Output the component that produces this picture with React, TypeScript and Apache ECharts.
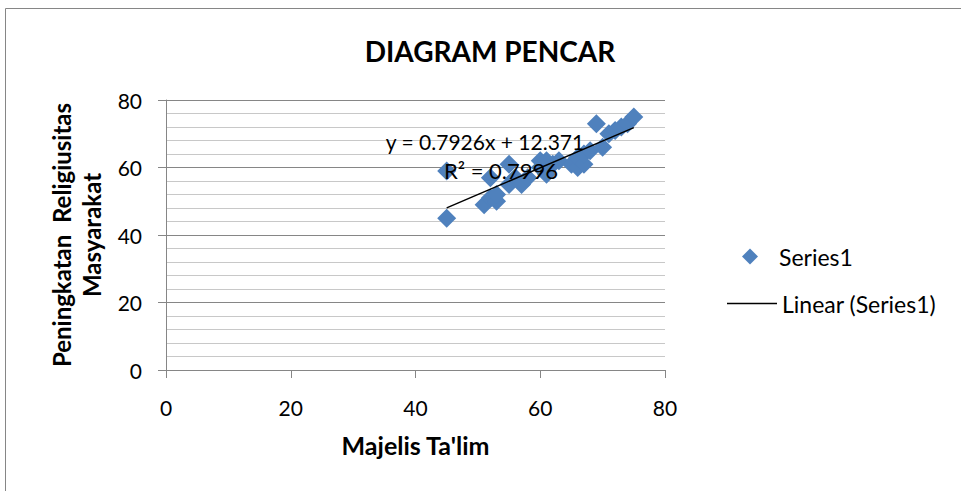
import React, { useEffect, useRef } from "react";
import * as echarts from "echarts";

const xValues = [45, 45, 51, 52, 52, 53, 53, 55, 55, 56, 57, 58, 60, 60, 61, 61, 62, 63, 65, 66, 66, 67, 67, 68, 69, 70, 71, 72, 73, 74, 75];
const yValues = [45, 59, 49, 51, 57, 50, 52, 61, 55, 57, 55, 57, 62, 60, 58, 62, 61, 62, 61, 60, 63, 61, 64, 65, 73, 66, 70, 71, 72, 73, 75];
const slope = 0.7926;
const intercept = 12.371;
const rSquared = 0.7996;
const titleText = "DIAGRAM PENCAR";
const xAxisName = "Majelis Ta'lim";
const yAxisName = "Peningkatan  Religiusitas\nMasyarakat";
const seriesName = "Series1";
const trendName = "Linear (Series1)";

const FONT = "Lato";

export default function App() {
  const ref = useRef<HTMLDivElement>(null);
  useEffect(() => {
    if (!ref.current) return;
    const chart = echarts.init(ref.current, undefined, { renderer: "svg" });
    const points = xValues.map((x, i) => [x, yValues[i]]);
    const minX = Math.min(...xValues);
    const maxX = Math.max(...xValues);
    const trend = [
      [minX, slope * minX + intercept],
      [maxX, slope * maxX + intercept],
    ];
    chart.setOption({
      animation: false,
      backgroundColor: "#ffffff",
      textStyle: { fontFamily: FONT },
      title: {
        text: titleText,
        left: 485,
        top: 32,
        textAlign: "center",
        textStyle: { fontFamily: FONT, fontWeight: "bold", fontSize: 28, color: "#000" },
      },
      grid: { left: 166, right: 296, top: 100, bottom: 121, containLabel: false },
      xAxis: {
        type: "value",
        min: 0,
        max: 80,
        interval: 20,
        name: xAxisName,
        nameLocation: "middle",
        nameGap: 62,
        nameTextStyle: { fontFamily: FONT, fontWeight: "bold", fontSize: 25, color: "#000" },
        axisLine: { show: true, lineStyle: { color: "#868686", width: 1 } },
        axisTick: { show: true, inside: false, length: 8, lineStyle: { color: "#868686" } },
        axisLabel: { fontFamily: FONT, fontSize: 21, color: "#000", margin: 27 },
        splitLine: { show: false },
      },
      yAxis: {
        type: "value",
        min: 0,
        max: 80,
        interval: 20,
        name: yAxisName,
        nameLocation: "middle",
        nameRotate: 90,
        nameGap: 59,
        nameTextStyle: { fontFamily: FONT, fontWeight: "bold", fontSize: 24, color: "#000", lineHeight: 30 },
        axisLine: { show: true, lineStyle: { color: "#868686", width: 1 } },
        axisTick: { show: true, inside: false, length: 8, lineStyle: { color: "#868686" } },
        axisLabel: { fontFamily: FONT, fontSize: 21, color: "#000", margin: 24 },
        splitLine: { show: true, lineStyle: { color: "#868686", width: 1 } },
        minorTick: { show: false, splitNumber: 5 },
        minorSplitLine: { show: true, lineStyle: { color: "#c8c8c8", width: 1 } },
      },
      legend: [
        {
          orient: "vertical",
          left: 737,
          top: 240,
          itemWidth: 16,
          itemHeight: 16,
          textStyle: { fontFamily: FONT, fontSize: 23, color: "#000", padding: [0, 0, 0, 16] },
          data: [{ name: seriesName, icon: "diamond" }],
        },
        {
          orient: "vertical",
          left: 722,
          top: 287,
          itemWidth: 50,
          itemHeight: 2,
          itemGap: 4,
          textStyle: { fontFamily: FONT, fontSize: 23, color: "#000" },
          data: [{ name: trendName, icon: "path://M0,0h50v1.5h-50z" }],
        },
      ],
      graphic: [
        {
          type: "rect",
          shape: { x: 5.5, y: 8.5, width: 2000, height: 2000 },
          style: { fill: "none", stroke: "#868686", lineWidth: 1 },
          silent: true,
        },
        {
          type: "text",
          x: 485,
          y: 141,
          style: {
            text: `y = ${slope}x + ${intercept}`,
            fontFamily: FONT,
            fontSize: 21,
            fill: "#000",
            align: "center",
            verticalAlign: "middle",
          },
          z: 100,
        },
        {
          type: "text",
          x: 501,
          y: 170,
          style: {
            text: `R² = ${rSquared}`,
            fontFamily: FONT,
            fontSize: 22,
            fill: "#000",
            align: "center",
            verticalAlign: "middle",
          },
          z: 100,
        },
      ],
      series: [
        {
          name: seriesName,
          type: "scatter",
          symbol: "diamond",
          symbolSize: 19,
          data: points,
          itemStyle: { color: "#4F81BD", opacity: 1 },
          z: 2,
        },
        {
          name: trendName,
          type: "line",
          data: trend,
          symbol: "none",
          showSymbol: false,
          lineStyle: { color: "#000", width: 1.5 },
          itemStyle: { color: "#000" },
          z: 3,
        },
      ],
    });
    return () => chart.dispose();
  }, []);
  return (
    <div
      ref={ref}
      style={{ position: "fixed", left: 0, top: 0, width: 961, height: 491 }}
    />
  );
}
